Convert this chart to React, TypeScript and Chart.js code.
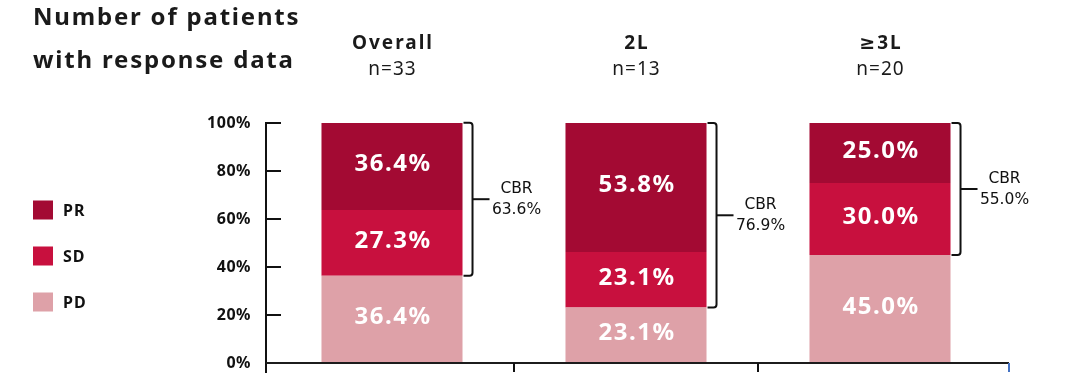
import React, { useEffect, useRef } from "react";
import { Chart, registerables } from "chart.js";

Chart.register(...registerables);

const categories = ["Overall", "2L", "≥3L"];
const nCounts = [33, 13, 20];
const prValues = [36.4, 53.8, 25.0];
const sdValues = [27.3, 23.1, 30.0];
const pdValues = [36.4, 23.1, 45.0];
const cbrValues = [63.6, 76.9, 55.0];
const yTicks = [0, 20, 40, 60, 80, 100];
const seriesNames = ["PR", "SD", "PD"];
const seriesColors = ["#A30A33", "#C8103E", "#DEA1A8"];
const titleLines = ["Number of patients", "with response data"];

const FONT = "'Noto Sans', 'DejaVu Sans', sans-serif";

function line(ctx: CanvasRenderingContext2D, x1: number, y1: number, x2: number, y2: number) {
  ctx.beginPath();
  ctx.moveTo(x1, y1);
  ctx.lineTo(x2, y2);
  ctx.stroke();
}

const decorPlugin = {
  id: "decor",
  afterDatasetsDraw(chart: any) {
    const ctx: CanvasRenderingContext2D = chart.ctx;
    const a = chart.chartArea;
    const x = chart.scales.x;
    const y = chart.scales.y;
    const axisLeft = a.left - 4;
    const axisRight = a.right + 7;
    ctx.save();

    // Title
    ctx.fillStyle = "#1a1a1a";
    ctx.font = `bold 24px ${FONT}`;
    (ctx as any).letterSpacing = "1.8px";
    ctx.textAlign = "left";
    ctx.textBaseline = "alphabetic";
    ctx.fillText(titleLines[0], 33, 25);
    ctx.fillText(titleLines[1], 33, 68);

    // Legend
    (ctx as any).letterSpacing = "1px";
    ctx.font = `bold 16px ${FONT}`;
    ctx.textBaseline = "middle";
    const legendY = [210, 256, 302];
    seriesNames.forEach((name, i) => {
      ctx.fillStyle = seriesColors[i];
      ctx.fillRect(33, legendY[i] - 9.5, 20, 19);
      ctx.fillStyle = "#111";
      ctx.fillText(name, 63, legendY[i] + 1);
    });

    // Y axis
    ctx.strokeStyle = "#111";
    ctx.lineWidth = 2;
    line(ctx, axisLeft, y.getPixelForValue(100) - 1, axisLeft, a.bottom + 10);
    ctx.font = `bold 16px ${FONT}`;
    (ctx as any).letterSpacing = "0.5px";
    ctx.textAlign = "right";
    ctx.fillStyle = "#111";
    yTicks.forEach((v) => {
      const py = y.getPixelForValue(v);
      if (v > 0) line(ctx, axisLeft, py, axisLeft + 15, py);
      ctx.fillText(`${v}%`, axisLeft - 15, py);
    });

    // X axis
    ctx.strokeStyle = "#1c1c1c";
    line(ctx, axisLeft, a.bottom, axisRight, a.bottom);
    categories.forEach((_, i) => {
      const last = i === categories.length - 1;
      const bx = last ? axisRight : x.getPixelForValue(i + 0.5);
      ctx.strokeStyle = last ? "#4472C4" : "#111";
      line(ctx, bx, a.bottom, bx, a.bottom + 9);
    });

    // Bar value labels
    (ctx as any).letterSpacing = "1.5px";
    ctx.font = `bold 24px ${FONT}`;
    ctx.fillStyle = "#ffffff";
    ctx.textAlign = "center";
    ctx.textBaseline = "middle";
    chart.data.datasets.forEach((ds: any, di: number) => {
      const meta = chart.getDatasetMeta(di);
      meta.data.forEach((el: any, i: number) => {
        const v = ds.data[i];
        ctx.fillText(`${v.toFixed(1)}%`, el.x + 1, (el.y + el.base) / 2 - 2);
      });
    });

    // Column headers
    const prMeta = chart.getDatasetMeta(2);
    const pdMeta = chart.getDatasetMeta(0);
    categories.forEach((c, i) => {
      const cx = prMeta.data[i].x;
      ctx.fillStyle = "#1a1a1a";
      ctx.textBaseline = "alphabetic";
      (ctx as any).letterSpacing = "2px";
      ctx.font = `bold 19px ${FONT}`;
      ctx.fillText(c, cx + 1, 49);
      (ctx as any).letterSpacing = "1px";
      ctx.font = `19px ${FONT}`;
      ctx.fillText(`n=${nCounts[i]}`, cx + 0.5, 75);
    });

    // CBR brackets
    (ctx as any).letterSpacing = "0px";
    ctx.strokeStyle = "#111";
    ctx.lineWidth = 2;
    categories.forEach((_, i) => {
      const el = prMeta.data[i];
      const right = el.x + el.width / 2;
      const top = el.y;
      const bottom = pdMeta.data[i].y;
      const vx = right + 10;
      ctx.beginPath();
      ctx.moveTo(right + 1, top);
      ctx.lineTo(vx - 3, top);
      ctx.quadraticCurveTo(vx, top, vx, top + 3);
      ctx.lineTo(vx, bottom - 3);
      ctx.quadraticCurveTo(vx, bottom, vx - 3, bottom);
      ctx.lineTo(right + 1, bottom);
      ctx.stroke();
      const mid = (top + bottom) / 2;
      line(ctx, vx, mid, vx + 17, mid);
      ctx.fillStyle = "#111";
      ctx.font = `15.5px 'DejaVu Sans', sans-serif`;
      ctx.textAlign = "center";
      ctx.textBaseline = "middle";
      ctx.fillText("CBR", vx + 44, mid - 10);
      ctx.fillText(`${cbrValues[i].toFixed(1)}%`, vx + 44, mid + 11);
    });

    ctx.restore();
  },
};

export default function App() {
  const canvasRef = useRef<HTMLCanvasElement | null>(null);

  useEffect(() => {
    if (!canvasRef.current) return;
    const chart = new Chart(canvasRef.current, {
      type: "bar",
      data: {
        labels: categories,
        datasets: [
          { label: "PD", data: pdValues, backgroundColor: seriesColors[2] },
          { label: "SD", data: sdValues, backgroundColor: seriesColors[1] },
          { label: "PR", data: prValues, backgroundColor: seriesColors[0] },
        ],
      },
      options: {
        responsive: false,
        animation: false,
        layout: { padding: { left: 270, right: 76, top: 123, bottom: 28 } },
        datasets: {
          bar: { barPercentage: 0.578, categoryPercentage: 1 },
        },
        scales: {
          x: { type: "category", stacked: true, display: false, offset: true },
          y: { type: "linear", stacked: true, display: false, min: 0, max: 100 },
        },
        plugins: {
          legend: { display: false },
          tooltip: { enabled: false },
        },
      },
      plugins: [decorPlugin],
    });
    return () => chart.destroy();
  }, []);

  return (
    <div style={{ position: "absolute", left: 0, top: 0, width: 1078, height: 391, background: "#fff" }}>
      <canvas ref={canvasRef} width={1078} height={391} style={{ display: "block" }} />
    </div>
  );
}
